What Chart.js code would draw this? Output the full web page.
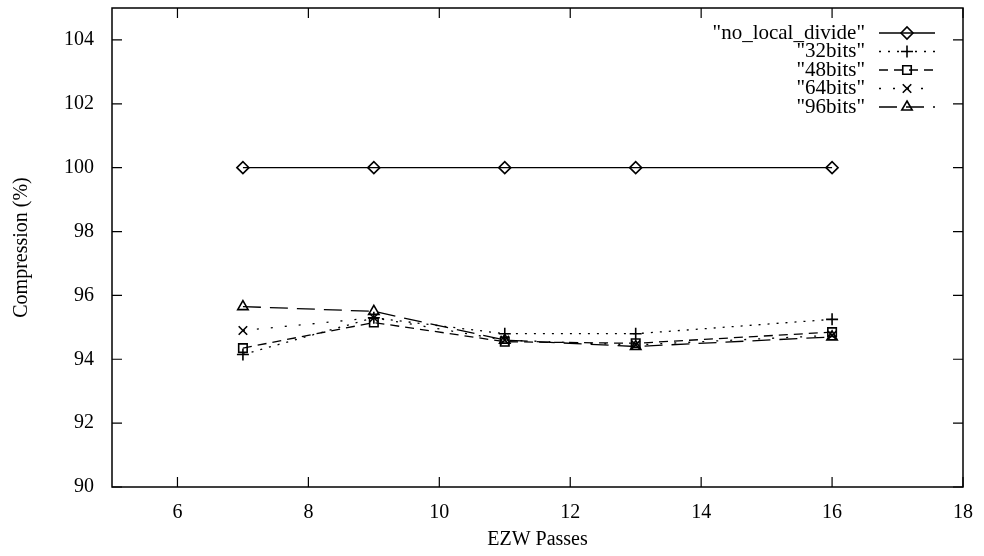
<!DOCTYPE html>
<html lang="en">
<head>
  <meta charset="UTF-8" />
  <title>Compression vs EZW Passes</title>
  <script src="https://cdn.jsdelivr.net/npm/chart.js"></script>
  <style>
    html, body { margin: 0; padding: 0; background: #fff; }
    canvas { display: block; }
  </style>
</head>
<body>
  <canvas id="chart" width="984" height="556"></canvas>

  <script>
    // data
    const passes = [7, 9, 11, 13, 16];
    const noLocalDivide = [100, 100, 100, 100, 100];
    const bits32 = [94.15, 95.3, 94.8, 94.8, 95.25];
    const bits48 = [94.35, 95.15, 94.55, 94.5, 94.85];
    const bits64 = [94.9, 95.3, 94.6, 94.45, 94.75];
    const bits96 = [95.65, 95.5, 94.6, 94.4, 94.7];

    const xTicks = [6, 8, 10, 12, 14, 16, 18];
    const yTicks = [90, 92, 94, 96, 98, 100, 102, 104];

    const seriesNames = ['"no_local_divide"', '"32bits"', '"48bits"', '"64bits"', '"96bits"'];
    const seriesValues = [noLocalDivide, bits32, bits48, bits64, bits96];
    const markers = ['rectRot', 'cross', 'rect', 'crossRot', 'triangle'];
    const dashes = [[], [2, 7], [9, 6], [2, 12], [18, 9]];

    const FONT = '"Liberation Serif", "DejaVu Serif", serif';

    const datasets = seriesNames.map((name, i) => ({
      label: name,
      data: passes.map((p, j) => ({ x: p, y: seriesValues[i][j] })),
      borderColor: '#000',
      backgroundColor: '#fff',
      borderWidth: 1.3,
      borderDash: dashes[i],
      pointStyle: markers[i],
      pointRadius: 6,
      pointBorderColor: '#000',
      pointBackgroundColor: 'rgba(255,255,255,0)',
      pointBorderWidth: 1.6,
      tension: 0,
      fill: false
    }));

    // gnuplot style frame with inward ticks on all four sides
    const framePlugin = {
      id: 'frame',
      afterDatasetsDraw(chart) {
        const { ctx, chartArea: a, scales } = chart;
        ctx.save();
        ctx.strokeStyle = '#000';
        ctx.lineWidth = 1.5;
        ctx.strokeRect(a.left, a.top, a.right - a.left, a.bottom - a.top);
        ctx.lineWidth = 1.2;
        const len = 10;
        xTicks.forEach(v => {
          const x = scales.x.getPixelForValue(v);
          ctx.beginPath();
          ctx.moveTo(x, a.bottom); ctx.lineTo(x, a.bottom - len);
          ctx.moveTo(x, a.top); ctx.lineTo(x, a.top + len);
          ctx.stroke();
        });
        yTicks.forEach(v => {
          const y = scales.y.getPixelForValue(v);
          ctx.beginPath();
          ctx.moveTo(a.left, y); ctx.lineTo(a.left + len, y);
          ctx.moveTo(a.right, y); ctx.lineTo(a.right - len, y);
          ctx.stroke();
        });
        ctx.restore();
      }
    };

    // key in the top right corner, text right aligned with a sample line
    const keyPlugin = {
      id: 'key',
      afterDatasetsDraw(chart) {
        const { ctx, chartArea: a } = chart;
        ctx.save();
        ctx.strokeStyle = '#000';
        ctx.textAlign = 'right';
        ctx.textBaseline = 'middle';
        const textRight = a.right - 98;
        const lineLeft = a.right - 84;
        const lineRight = a.right - 28;
        chart.data.datasets.forEach((ds, i) => {
          const y = a.top + 25 + i * 18.5;
          ctx.fillStyle = '#000';
          ctx.font = '21px ' + FONT;
          ctx.fillText(ds.label, textRight, y);
          ctx.lineWidth = 1.3;
          ctx.setLineDash(ds.borderDash);
          ctx.beginPath();
          ctx.moveTo(lineLeft, y);
          ctx.lineTo(lineRight, y);
          ctx.stroke();
          ctx.setLineDash([]);
          ctx.lineWidth = 1.6;
          ctx.fillStyle = 'rgba(255,255,255,0)';
          Chart.helpers.drawPoint(ctx, {
            pointStyle: ds.pointStyle,
            radius: 6,
            borderWidth: 1.6,
            rotation: 0
          }, (lineLeft + lineRight) / 2, y);
        });
        ctx.restore();
      }
    };

    new Chart(document.getElementById('chart').getContext('2d'), {
      type: 'line',
      data: { datasets },
      options: {
        responsive: false,
        animation: false,
        layout: { padding: { left: 0, top: 8, right: 21, bottom: 0 } },
        plugins: {
          legend: { display: false },
          tooltip: { enabled: false }
        },
        scales: {
          x: {
            type: 'linear',
            min: 5,
            max: 18,
            afterBuildTicks: s => { s.ticks = xTicks.map(v => ({ value: v })); },
            afterFit: s => { s.height = 69; s.paddingLeft = 0; s.paddingRight = 0; },
            grid: { display: false },
            border: { display: false },
            ticks: { color: '#000', font: { family: FONT, size: 20 }, padding: 6, maxRotation: 0 },
            title: { display: true, text: 'EZW Passes', color: '#000', font: { family: FONT, size: 20 }, padding: { top: 2 } }
          },
          y: {
            min: 90,
            max: 105,
            afterBuildTicks: s => { s.ticks = yTicks.map(v => ({ value: v })); },
            afterFit: s => { s.width = 112; s.paddingTop = 0; s.paddingBottom = 0; },
            grid: { display: false },
            border: { display: false },
            ticks: { color: '#000', font: { family: FONT, size: 20 }, padding: 10 },
            title: { display: true, text: 'Compression (%)', color: '#000', font: { family: FONT, size: 20 }, padding: { top: 10, bottom: 4 } }
          }
        }
      },
      plugins: [framePlugin, keyPlugin]
    });
  </script>
</body>
</html>
